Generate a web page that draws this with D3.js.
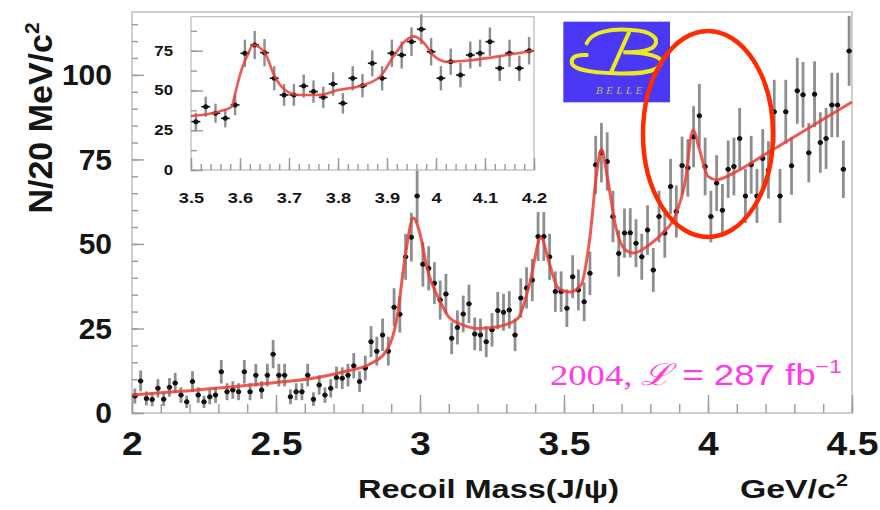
<!DOCTYPE html>
<html>
<head>
<meta charset="utf-8">
<script src="https://cdnjs.cloudflare.com/ajax/libs/d3/7.8.5/d3.min.js"></script>
<style>
body { margin: 0; background: #fff; }
svg { display: block; font-family: "Liberation Sans", Arial, sans-serif; }
</style>
</head>
<body>
<svg id="chart"></svg>
<script>
var width = 880;
var height = 510;

// main histogram: 20 MeV bins starting at 2.0 GeV/c2
var mainLow = 2.0;
var mainBin = 0.02;
var mainCounts = [
	5.0, 9.5, 4.3, 4.0, 7.3, 4.1, 7.6, 8.9, 5.3, 3.3,
	9.3, 5.3, 3.3, 4.8, 5.3, 12.2, 6.3, 6.8, 6.3, 12.2,
	6.3, 11.2, 6.8, 11.2, 17.4, 11.2, 11.2, 4.8, 6.3, 6.3,
	11.2, 4.1, 8.3, 5.3, 7.3, 10.5, 10.3, 11.2, 14.0, 9.3,
	13.3, 21.1, 18.3, 23.1, 18.3, 31.3, 29.2, 46.2, 52.0, 64.2,
	44.0, 42.8, 38.4, 33.4, 35.2, 22.1, 25.3, 29.3, 32.3, 23.4,
	23.1, 21.1, 24.6, 30.3, 29.8, 30.5, 23.1, 34.0, 37.0, 39.3,
	52.2, 52.2, 46.2, 35.9, 35.9, 31.0, 40.3, 36.4, 32.9, 41.3,
	73.4, 77.0, 74.4, 58.1, 47.2, 53.2, 53.3, 50.2, 46.2, 54.1,
	42.3, 58.1, 53.2, 67.0, 59.6, 73.2, 72.5, 81.7, 87.9, 72.9,
	58.1, 68.0, 60.0, 72.1, 72.9, 81.2, 64.2, 73.4, 64.2, 75.3,
	71.9, 89.1, 64.2, 89.1, 73.1, 95.3, 94.1, 77.0, 94.3, 80.0,
	81.2, 91.1, 91.1, 72.1, 107.1
];

// inset histogram: 20 MeV bins starting at 3.5 GeV/c2
var insetLow = 3.5;
var insetBin = 0.02;
var insetCounts = [
	30.4, 39.8, 35.7, 32.5, 40.9, 73.4, 78.6, 73.8, 57.7, 47.2,
	47.2, 52.8, 49.3, 45.7, 54.1, 41.9, 57.7, 53.0, 67.1, 57.7,
	73.4, 72.3, 80.7, 88.5, 74.4, 57.7, 68.1, 59.7, 72.3, 73.4,
	80.7, 64.0, 73.4, 64.0, 75.0
];

// fit curves
var mainFitMass = [2.0, 2.1, 2.2, 2.34, 2.5, 2.65, 2.75, 2.82, 2.885, 2.92, 2.948, 2.977, 3.0, 3.024, 3.07, 3.1, 3.15, 3.2, 3.27, 3.34, 3.38, 3.42, 3.45, 3.48, 3.52, 3.56, 3.59, 3.615, 3.63, 3.65, 3.68, 3.71, 3.74, 3.8, 3.84, 3.89, 3.92, 3.948, 3.97, 4.0, 4.03, 4.1, 4.2, 4.3, 4.4, 4.5];
var mainFitValue = [5.3, 6.0, 6.6, 7.7, 9.0, 10.6, 12.5, 14.2, 18.6, 28.0, 46.0, 57.7, 53.0, 43.0, 33.0, 28.4, 26.0, 25.0, 25.5, 28.0, 38.0, 51.8, 44.0, 37.0, 35.8, 38.0, 52.0, 72.0, 78.0, 70.0, 55.0, 48.5, 47.3, 50.0, 53.0, 59.0, 68.0, 83.7, 78.0, 70.0, 69.0, 71.5, 76.6, 81.7, 86.9, 92.0];

var insetFitMass = [3.5, 3.556, 3.583, 3.59, 3.603, 3.615, 3.627, 3.651, 3.671, 3.692, 3.719, 3.76, 3.801, 3.845, 3.886, 3.913, 3.935, 3.955, 3.975, 3.995, 4.022, 4.076, 4.144, 4.2];
var insetFitValue = [34.0, 36.7, 39.8, 48.0, 62.9, 72.0, 78.6, 73.4, 58.7, 50.3, 47.2, 47.2, 50.3, 52.8, 58.7, 71.3, 80.5, 84.0, 80.0, 72.0, 68.1, 69.2, 72.3, 75.0];

// tick labels
var mainXTicks = [2, 2.5, 3, 3.5, 4, 4.5];
var mainYTicks = [0, 25, 50, 75, 100];
var insetXTicks = [3.5, 3.6, 3.7, 3.8, 3.9, 4.0, 4.1, 4.2];
var insetYTicks = [0, 25, 50, 75];

var svg = d3.select("#chart")
	.attr("width", width)
	.attr("height", height)
	.attr("viewBox", "0 0 " + width + " " + height);

// Main scales
var x = d3.scaleLinear().domain([2, 4.5]).range([132, 852]);
var y = d3.scaleLinear().domain([0, 118.6]).range([413, 12]);

// Inset scales
var ix = d3.scaleLinear().domain([3.5, 4.2]).range([191, 534]);
var iy = d3.scaleLinear().domain([0, 96.4]).range([170, 16.7]);

function styleAxis(g, size, sx) {
	g.select(".domain").remove();
	g.selectAll("line").attr("stroke", "#9a9a9a").attr("stroke-width", 1.4);
	g.selectAll("text")
		.attr("fill", "#151515")
		.style("font-size", size + "px")
		.style("font-weight", "bold")
		.style("font-family", "'Liberation Sans', Arial, sans-serif")
		.attr("transform", "scale(" + sx + ",1)");
}

// frame
svg.append("rect")
	.attr("x", 132).attr("y", 12)
	.attr("width", 852 - 132).attr("height", 413 - 12)
	.attr("fill", "#fff").attr("stroke", "#c4c4c4").attr("stroke-width", 1.6);

// minor ticks, main
svg.append("g").attr("transform", "translate(0,413)")
	.call(d3.axisBottom(x).tickValues(d3.range(2, 4.5001, 0.1)).tickSize(-9).tickFormat(""))
	.call(styleAxis, 10, 1);
svg.append("g").attr("transform", "translate(132,0)")
	.call(d3.axisLeft(y).tickValues(d3.range(0, 116, 5)).tickSize(-6).tickFormat(""))
	.call(styleAxis, 10, 1);

// major ticks + labels, main
svg.append("g").attr("transform", "translate(0,413)")
	.call(d3.axisBottom(x).tickValues(mainXTicks).tickSize(-18).tickPadding(19).tickFormat(d3.format("")))
	.call(styleAxis, 33, 1.13);
svg.append("g").attr("transform", "translate(132,0)")
	.call(d3.axisLeft(y).tickValues(mainYTicks).tickSize(-12).tickPadding(20))
	.call(styleAxis, 30, 1);

// main data
var mainData = mainCounts.map(function (c, i) {
	return { m: mainLow + mainBin * (i + 0.5), n: c };
});

var mg = svg.append("g");
// Poisson error bars (sqrt N)
mg.selectAll("line.err").data(mainData).enter().append("line")
	.attr("class", "err")
	.attr("x1", function (d) { return x(d.m); })
	.attr("x2", function (d) { return x(d.m); })
	.attr("y1", function (d) { return y(d.n + Math.sqrt(d.n)); })
	.attr("y2", function (d) { return y(Math.max(d.n - Math.sqrt(d.n), 0)); })
	.attr("stroke", "#8e8e8e").attr("stroke-width", 2.8);
mg.selectAll("line.bin").data(mainData).enter().append("line")
	.attr("class", "bin")
	.attr("x1", function (d) { return x(d.m - mainBin * 0.45); })
	.attr("x2", function (d) { return x(d.m + mainBin * 0.45); })
	.attr("y1", function (d) { return y(d.n); })
	.attr("y2", function (d) { return y(d.n); })
	.attr("stroke", "#111").attr("stroke-width", 1.6);
mg.selectAll("circle").data(mainData).enter().append("circle")
	.attr("cx", function (d) { return x(d.m); })
	.attr("cy", function (d) { return y(d.n); })
	.attr("r", 2.5).attr("fill", "#111");

var mainLine = d3.line()
	.x(function (d, i) { return x(mainFitMass[i]); })
	.y(function (d) { return y(d); })
	.curve(d3.curveMonotoneX);
svg.append("path").datum(mainFitValue)
	.attr("d", mainLine)
	.attr("fill", "none").attr("stroke", "#ea3d35").attr("stroke-width", 3).attr("opacity", 0.85);

// ---- inset ----
var ig = svg.append("g");
ig.append("rect")
	.attr("x", 191).attr("y", 16.7)
	.attr("width", 534 - 191).attr("height", 170 - 16.7)
	.attr("fill", "#fff").attr("stroke", "#c4c4c4").attr("stroke-width", 1.4);

ig.append("g").attr("transform", "translate(0,170)")
	.call(d3.axisBottom(ix).tickValues(d3.range(3.5, 4.2001, 0.02)).tickSize(-6).tickFormat(""))
	.call(styleAxis, 10, 1);
ig.append("g").attr("transform", "translate(191,0)")
	.call(d3.axisLeft(iy).tickValues(d3.range(0, 95, 12.5)).tickSize(-6).tickFormat(""))
	.call(styleAxis, 10, 1);
ig.append("g").attr("transform", "translate(0,170)")
	.call(d3.axisBottom(ix).tickValues(insetXTicks).tickSize(-12).tickPadding(23).tickFormat(d3.format("")))
	.call(styleAxis, 14, 1.3);
ig.append("g").attr("transform", "translate(191,0)")
	.call(d3.axisLeft(iy).tickValues(insetYTicks).tickSize(-12).tickPadding(15))
	.call(styleAxis, 14, 1.2);

var insetData = insetCounts.map(function (c, i) {
	return { m: insetLow + insetBin * (i + 0.5), n: c };
});
ig.selectAll("line.err").data(insetData).enter().append("line")
	.attr("class", "err")
	.attr("x1", function (d) { return ix(d.m); })
	.attr("x2", function (d) { return ix(d.m); })
	.attr("y1", function (d) { return iy(d.n + Math.sqrt(d.n)); })
	.attr("y2", function (d) { return iy(d.n - Math.sqrt(d.n)); })
	.attr("stroke", "#8e8e8e").attr("stroke-width", 2.4);
ig.selectAll("line.bin").data(insetData).enter().append("line")
	.attr("class", "bin")
	.attr("x1", function (d) { return ix(d.m - insetBin * 0.45); })
	.attr("x2", function (d) { return ix(d.m + insetBin * 0.45); })
	.attr("y1", function (d) { return iy(d.n); })
	.attr("y2", function (d) { return iy(d.n); })
	.attr("stroke", "#111").attr("stroke-width", 1.6);
ig.selectAll("circle").data(insetData).enter().append("circle")
	.attr("cx", function (d) { return ix(d.m); })
	.attr("cy", function (d) { return iy(d.n); })
	.attr("r", 2.5).attr("fill", "#111");

var insetLine = d3.line()
	.x(function (d, i) { return ix(insetFitMass[i]); })
	.y(function (d) { return iy(d); })
	.curve(d3.curveMonotoneX);
ig.append("path").datum(insetFitValue)
	.attr("d", insetLine)
	.attr("fill", "none").attr("stroke", "#ea3d35").attr("stroke-width", 2.6).attr("opacity", 0.85);

// ---- Belle logo ----
var logo = svg.append("g").attr("transform", "translate(555,15) scale(0.3333)");
logo.append("rect").attr("x", 25).attr("y", 20).attr("width", 320).attr("height", 242).attr("fill", "#4b38f6");
logo.append("path")
	.attr("d", "M95,85 C110,50 170,40 230,45 C290,48 312,70 300,90 C290,108 250,112 205,112 " +
		"C280,112 325,125 318,145 C310,170 250,178 180,175 C110,172 50,165 50,140 C50,125 70,118 95,120 " +
		"M222,52 L168,172")
	.attr("fill", "none").attr("stroke", "#ecec1c").attr("stroke-width", 12).attr("stroke-linecap", "round");
logo.append("text")
	.attr("x", 122).attr("y", 236)
	.attr("textLength", 140)
	.style("font-family", "'Liberation Serif', serif").style("font-style", "italic")
	.style("font-size", "34px").attr("fill", "#b9b84a")
	.text("BELLE");

// ---- red ellipse ----
svg.append("ellipse")
	.attr("cx", 708).attr("cy", 134).attr("rx", 65).attr("ry", 103)
	.attr("fill", "none").attr("stroke", "#ff2a00").attr("stroke-width", 4.5);

// ---- luminosity label ----
var lum = svg.append("text")
	.attr("transform", "translate(550,385) scale(1.22,1)")
	.attr("fill", "#ff3ce6").attr("font-size", 30);
lum.append("tspan").attr("font-family", "Liberation Serif")
	.style("font-family", "'Liberation Serif', 'DejaVu Serif', serif").text("2004, ");
lum.append("tspan").style("font-family", "'DejaVu Serif', serif").style("font-style", "italic").text("\u2112");
lum.append("tspan").style("font-family", "'Liberation Sans', Arial, sans-serif").text(" = 287 fb");
lum.append("tspan").style("font-family", "'Liberation Sans', Arial, sans-serif")
	.attr("font-size", 19).attr("dy", -12).text("\u22121");

// ---- axis titles ----
var yt = svg.append("text")
	.attr("transform", "translate(52,118) rotate(-90)")
	.attr("text-anchor", "middle")
	.style("font-size", "34px").style("font-weight", "bold").attr("fill", "#151515");
yt.append("tspan").text("N/20 MeV/c");
yt.append("tspan").style("font-size", "21px").attr("dy", -13).text("2");

svg.append("text")
	.attr("transform", "translate(358,498) scale(1.25,1)")
	.style("font-size", "26px").style("font-weight", "bold").attr("fill", "#151515")
	.text("Recoil Mass(J/\u03c8)");

var gt = svg.append("text")
	.attr("transform", "translate(740,498) scale(1.3,1)")
	.style("font-size", "26px").style("font-weight", "bold").attr("fill", "#151515");
gt.append("tspan").text("GeV/c");
gt.append("tspan").style("font-size", "17px").attr("dy", -12).text("2");
</script>
</body>
</html>
